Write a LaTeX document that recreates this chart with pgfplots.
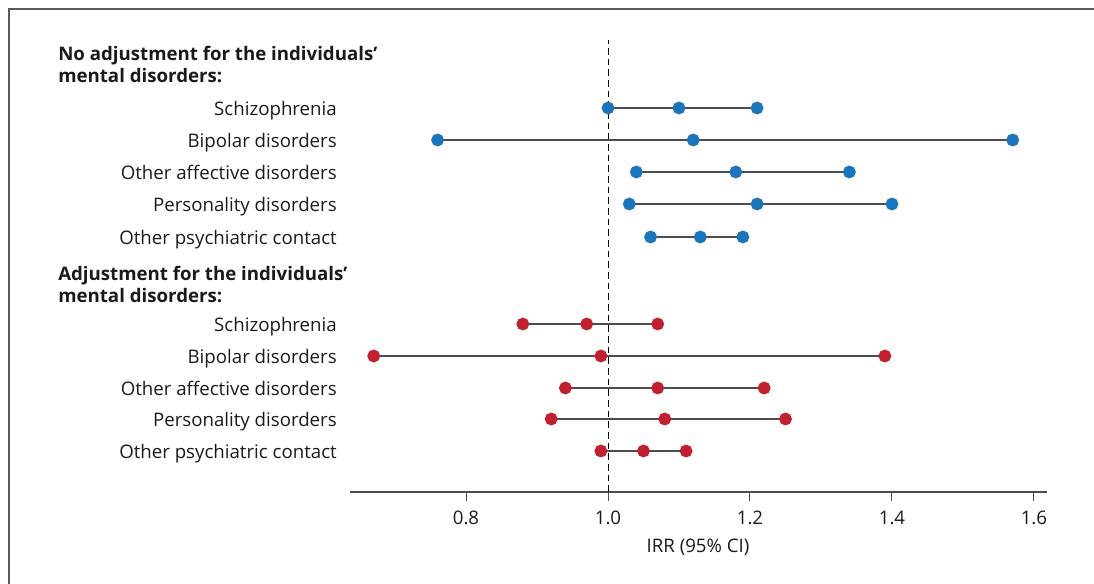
\documentclass[border=0pt]{standalone}
\usepackage{pgfplots}
\pgfplotsset{compat=1.18}
\usepackage{fontspec}
\setmainfont{Open Sans}
\definecolor{bluept}{HTML}{1B75BC}
\definecolor{redpt}{HTML}{C1202F}
\definecolor{linegray}{HTML}{4D4D4D}
\definecolor{txt}{HTML}{1A1A1A}
\definecolor{frame}{HTML}{5A5A5A}
\newcommand{\lab}{\fontsize{14pt}{16.5pt}\selectfont}
\begin{document}
\begin{tikzpicture}[x=0.75pt,y=0.75pt]
\useasboundingbox (0,0) rectangle (1094,584);
\draw[frame, line width=1.5pt] (9,0) -- (9,575) -- (1094,575);
\begin{axis}[
  at={(262.5pt,69pt)}, anchor=south west,
  scale only axis, width=522.5pt, height=339pt,
  xmin=0.6366, xmax=1.6179, ymin=92, ymax=544,
  axis x line=bottom, axis y line=none,
  x axis line style={-, linegray, line width=0.9pt},
  xtick={0.8,1.0,1.2,1.4,1.6},
  xticklabels={0.8,1.0,1.2,1.4,1.6},
  tick align=outside, major tick length=6.75pt,
  tick style={linegray, line width=0.75pt},
  xticklabel style={font=\lab, text=txt, anchor=base, yshift=-18pt},
  clip=false,
  every axis plot/.append style={line width=1.4pt, mark=*, mark size=4.1pt},
]
\addplot[black, dashed, line width=0.75pt, mark=none, dash pattern=on 5pt off 3pt] coordinates {(1,92) (1,544)};
% no adjustment (blue)
\addplot[linegray, mark options={bluept, fill=bluept}] coordinates {(1.00,476) (1.10,476) (1.21,476)};
\addplot[linegray, mark options={bluept, fill=bluept}] coordinates {(0.76,444) (1.12,444) (1.57,444)};
\addplot[linegray, mark options={bluept, fill=bluept}] coordinates {(1.04,412) (1.18,412) (1.34,412)};
\addplot[linegray, mark options={bluept, fill=bluept}] coordinates {(1.03,380) (1.21,380) (1.40,380)};
\addplot[linegray, mark options={bluept, fill=bluept}] coordinates {(1.06,347) (1.13,347) (1.19,347)};
% adjustment (red)
\addplot[linegray, mark options={redpt, fill=redpt}] coordinates {(0.88,260) (0.97,260) (1.07,260)};
\addplot[linegray, mark options={redpt, fill=redpt}] coordinates {(0.67,228) (0.99,228) (1.39,228)};
\addplot[linegray, mark options={redpt, fill=redpt}] coordinates {(0.94,196) (1.07,196) (1.22,196)};
\addplot[linegray, mark options={redpt, fill=redpt}] coordinates {(0.92,165) (1.08,165) (1.25,165)};
\addplot[linegray, mark options={redpt, fill=redpt}] coordinates {(0.99,133) (1.05,133) (1.11,133)};
\end{axis}
\begin{scope}[every node/.style={font=\lab, text=txt, inner sep=0pt}]
\node[anchor=base west, font=\lab\bfseries] at (58,523.5) {No adjustment for the individuals’};
\node[anchor=base west, font=\lab\bfseries] at (58,501.3) {mental disorders:};
\node[anchor=base west, font=\lab\bfseries] at (58,303.5) {Adjustment for the individuals’};
\node[anchor=base west, font=\lab\bfseries] at (58,281.5) {mental disorders:};
\node[anchor=base east] at (337,468.5) {Schizophrenia};
\node[anchor=base east] at (337,436.5) {Bipolar disorders};
\node[anchor=base east] at (337,404.5) {Other affective disorders};
\node[anchor=base east] at (337,372.5) {Personality disorders};
\node[anchor=base east] at (337,339.5) {Other psychiatric contact};
\node[anchor=base east] at (337,252.5) {Schizophrenia};
\node[anchor=base east] at (337,220.5) {Bipolar disorders};
\node[anchor=base east] at (337,188.5) {Other affective disorders};
\node[anchor=base east] at (337,157.5) {Personality disorders};
\node[anchor=base east] at (337,125.5) {Other psychiatric contact};
\node[anchor=base] at (698,31) {IRR (95\% CI)};
\end{scope}
\end{tikzpicture}
\end{document}
